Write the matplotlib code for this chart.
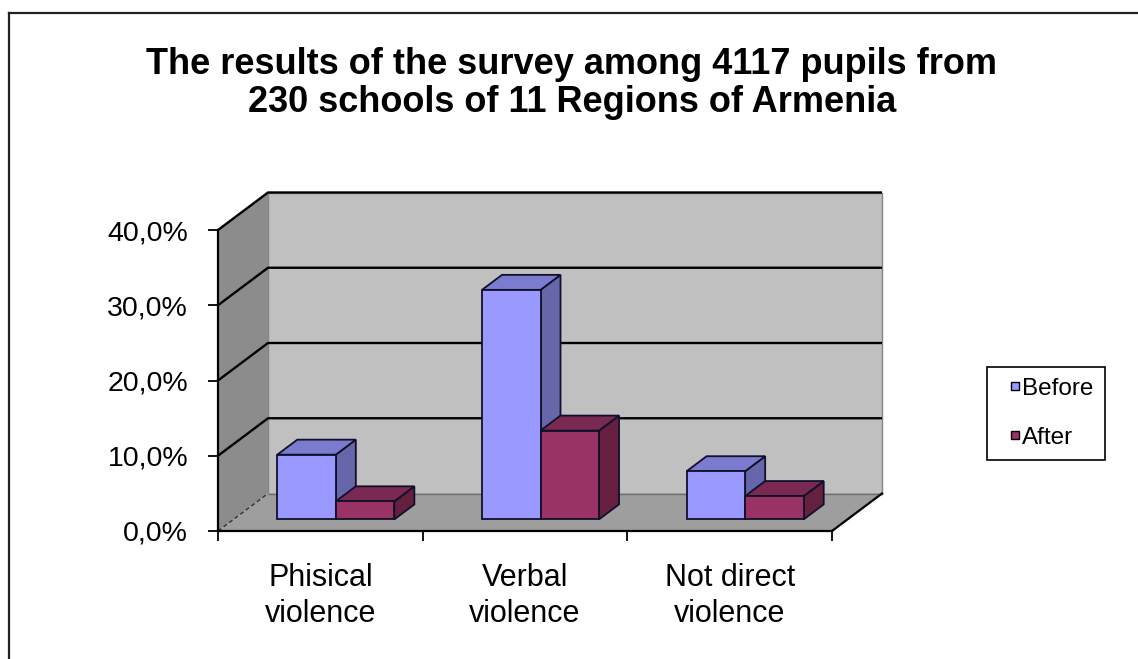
import numpy as np
import matplotlib
matplotlib.use("Agg")
import matplotlib.pyplot as plt
from matplotlib.patches import Polygon
from matplotlib.lines import Line2D

# ---------------- data ----------------
categories = ["Phisical\nviolence", "Verbal\nviolence", "Not direct\nviolence"]
series_names = ["Before", "After"]
before = [8.6, 30.5, 6.4]
after = [2.4, 11.8, 3.1]
yticks = [0, 10, 20, 30, 40]
ytick_labels = ["0,0%", "10,0%", "20,0%", "30,0%", "40,0%"]
title = "The results of the survey among 4117 pupils from\n230 schools of 11 Regions of Armenia"

# ---------------- style ----------------
plt.rcParams["font.family"] = ["Liberation Sans", "DejaVu Sans"]
front_colors = ["#9999FF", "#993366"]
top_colors = ["#7B7BD0", "#7A2952"]
side_colors = ["#6666AA", "#66203F"]
edge_color = "#10102a"

W, H = 1138, 659
fig = plt.figure(figsize=(W / 100, H / 100), dpi=100)
fig.patch.set_facecolor("white")

# plot area (front plane) in pixels
px0, px1 = 218, 832
py0, py1 = 531, 230
ax = fig.add_axes([px0 / W, 1 - py0 / H, (px1 - px0) / W, (py0 - py1) / H])
n = len(categories)
ymax = yticks[-1]
ax.set_xlim(0, n)
ax.set_ylim(0, ymax)
ax.patch.set_visible(False)

# depth of the 3-D box expressed in data units
DX = 50 / ((px1 - px0) / n)
DY = 37.5 / ((py0 - py1) / ymax)

# walls and floor
ax.add_patch(Polygon([(0, 0), (0, ymax), (DX, ymax + DY), (DX, DY)],
                     closed=True, fc="#8C8C8C", ec="none", clip_on=False, zorder=0))
ax.add_patch(Polygon([(DX, DY), (DX, ymax + DY), (n + DX, ymax + DY), (n + DX, DY)],
                     closed=True, fc="#C0C0C0", ec="#858585", lw=1.0, clip_on=False, zorder=0))
ax.add_patch(Polygon([(0, 0), (n, 0), (n + DX, DY), (DX, DY)],
                     closed=True, fc="#9E9E9E", ec="none", clip_on=False, zorder=0))

# gridlines (on side wall and back wall)
for v in yticks[1:]:
    ax.plot([0, DX, n + DX], [v, v + DY, v + DY], color="black", lw=1.7,
            clip_on=False, zorder=1, solid_capstyle="butt")
ax.plot([0, DX], [0, DY], color="#333333", lw=1.0, ls=(0, (3, 2)), clip_on=False, zorder=1)
ax.plot([DX, n + DX], [DY, DY], color="#6e6e6e", lw=1.0, clip_on=False, zorder=1)
ax.plot([n, n + DX], [0, DY], color="black", lw=1.6, clip_on=False, zorder=1)

# bars
bar_w = 0.286
f0, f1 = 0.31, 0.71
ox, oy = f0 * DX, f0 * DY
bdx, bdy = (f1 - f0) * DX, (f1 - f0) * DY
z = 2
for i in range(n):
    for s, vals in enumerate([before, after]):
        h = vals[i]
        xl = i + 0.5 - bar_w + s * bar_w + ox
        xr = xl + bar_w
        side = [(xr, oy), (xr + bdx, oy + bdy), (xr + bdx, h + oy + bdy), (xr, h + oy)]
        top = [(xl, h + oy), (xr, h + oy), (xr + bdx, h + oy + bdy), (xl + bdx, h + oy + bdy)]
        front = [(xl, oy), (xr, oy), (xr, h + oy), (xl, h + oy)]
        for poly, col in [(side, side_colors[s]), (top, top_colors[s]), (front, front_colors[s])]:
            ax.add_patch(Polygon(poly, closed=True, fc=col, ec=edge_color, lw=1.3,
                                 joinstyle="miter", clip_on=False, zorder=z))
            z += 1

# axes, ticks, labels
for side_name in ["top", "right"]:
    ax.spines[side_name].set_visible(False)
for side_name in ["left", "bottom"]:
    ax.spines[side_name].set_linewidth(1.6)
    ax.spines[side_name].set_zorder(50)
ax.set_yticks(yticks, labels=ytick_labels)
ax.tick_params(axis="y", length=7.5, width=1.3, pad=14, labelsize=20.5, direction="out")
ax.set_xticks(np.arange(n + 1))
ax.set_xticklabels([])
ax.set_xticks(np.arange(n) + 0.5, minor=True)
ax.set_xticklabels(categories, minor=True, linespacing=1.27)
ax.tick_params(axis="x", which="major", length=7.5, width=1.3, direction="out")
ax.tick_params(axis="x", which="minor", length=0, pad=23, labelsize=22)

# legend
handles = [Line2D([], [], marker="s", ls="none", ms=6, mfc=front_colors[k],
                  mec="black", mew=1.0) for k in range(2)]
leg = fig.legend(handles, series_names, loc="upper left",
                 bbox_to_anchor=(987 / W, 1 - 367 / H), bbox_transform=fig.transFigure,
                 frameon=True, fancybox=False, edgecolor="black", framealpha=1,
                 fontsize=17.5, handlelength=1.4, handletextpad=-0.4, borderpad=0.45,
                 labelspacing=1.1, borderaxespad=0)
leg.get_frame().set_linewidth(1.2)

# title (anchored at the baseline of its last line)
fig.text(572 / W, 1 - 112 / H, title, ha="center", va="baseline", fontsize=26,
         fontweight="bold", linespacing=1.12)

# chart-area border (partly cropped in the original)
fig.add_artist(Line2D([9 / W, 9 / W], [0, 1 - 13 / H], transform=fig.transFigure,
                      color="#222222", lw=1.6))
fig.add_artist(Line2D([9 / W, 1], [1 - 13 / H, 1 - 13 / H], transform=fig.transFigure,
                      color="#222222", lw=1.6))

fig.savefig("out.png", dpi=100)
